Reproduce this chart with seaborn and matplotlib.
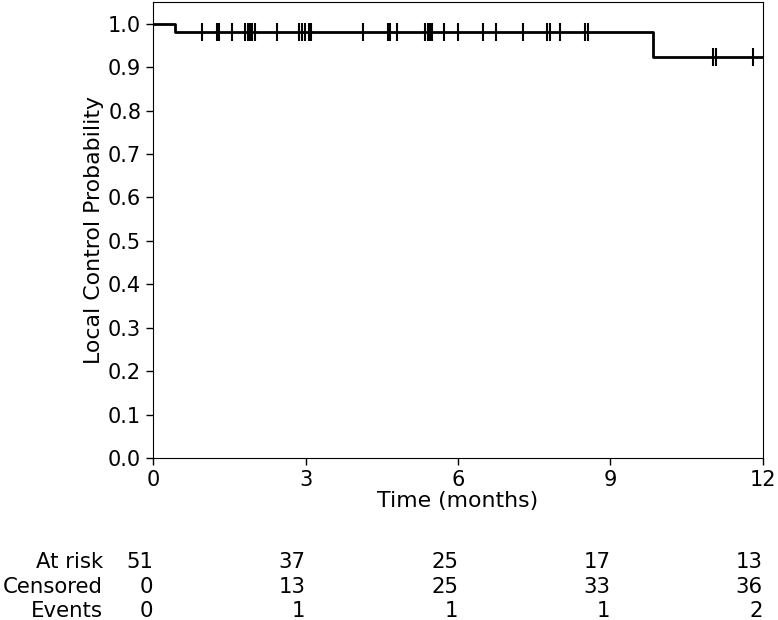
import numpy as np
import pandas as pd
import matplotlib
matplotlib.use("Agg")
import matplotlib.pyplot as plt
import seaborn as sns

sns.set_style("ticks")
plt.rcParams['font.family'] = ['DejaVu Sans']
plt.rcParams['text.color'] = 'black'
plt.rcParams['axes.labelcolor'] = 'black'
plt.rcParams['xtick.color'] = 'black'
plt.rcParams['ytick.color'] = 'black'

# Data
n_total = 51
event_times = [0.43, 9.84]
censor_times = [0.97, 1.25, 1.30, 1.55, 1.81, 1.86, 1.90, 1.94, 2.01, 2.43,
                2.88, 2.94, 2.98, 3.06, 3.10, 4.14, 4.62, 4.66, 4.80, 5.36,
                5.40, 5.44, 5.48, 5.72, 5.99, 6.50, 6.74, 7.27, 7.76, 7.81,
                8.01, 8.50, 8.55, 11.01, 11.08, 11.81]
table_times = [0, 3, 6, 9, 12]
at_risk = [51, 37, 25, 17, 13]
censored = [0, 13, 25, 33, 36]
events = [0, 1, 1, 1, 2]
row_labels = ["At risk", "Censored", "Events"]

# Kaplan-Meier estimate
surv = 1.0
times = [0.0]
probs = [1.0]
for t in sorted(event_times):
    n_risk = n_total - sum(1 for e in event_times if e < t) - sum(1 for c in censor_times if c < t)
    surv *= (n_risk - 1) / n_risk
    times.append(t)
    probs.append(surv)
times.append(12.0)
probs.append(surv)
curve = pd.DataFrame({"time": times, "prob": probs})

def s_at(t):
    p = 1.0
    for tt, pp in zip(times, probs):
        if tt <= t:
            p = pp
    return p

cens = pd.DataFrame({"time": censor_times, "prob": [s_at(c) for c in censor_times]})

FS_TICK = 15
FS_LAB = 15.8
FS_TAB = 15.3
fig = plt.figure(figsize=(7.78, 6.2), dpi=100)
ax = fig.add_axes([0.1967, 0.2613, 0.784, 0.7355])
sns.lineplot(data=curve, x="time", y="prob", drawstyle="steps-post", color="black", lw=2, ax=ax)
sns.scatterplot(data=cens, x="time", y="prob", marker="|", s=150, color="black", linewidth=1.5, ax=ax)

ax.set_xlim(0, 12)
ax.set_ylim(0, 1.05)
ax.set_xticks(table_times)
ax.set_yticks(np.arange(0, 1.01, 0.1))
ax.set_yticklabels([f"{v:.1f}" for v in np.arange(0, 1.01, 0.1)])
ax.tick_params(labelsize=FS_TICK, direction="out", length=5, width=1, colors="black")
ax.set_xlabel("Time (months)", fontsize=FS_LAB, labelpad=1)
ax.set_ylabel("Local Control Probability", fontsize=FS_LAB, labelpad=3)
for s in ax.spines.values():
    s.set_visible(True)
    s.set_color("black")

# At-risk table
rows = [at_risk, censored, events]
ys = [562, 587, 611]
for lab, vals, ypx in zip(row_labels, rows, ys):
    yf = 1 - ypx / 620
    fig.text(103 / 778, yf, lab, ha="right", va="center", fontsize=FS_TAB, color="black")
    for t, v in zip(table_times, vals):
        xd = ax.transData.transform((t, 0))[0]
        fig.text((xd) / 778, yf, str(v), ha="right", va="center", fontsize=FS_TAB, color="black")

fig.savefig("out.png", dpi=100)
